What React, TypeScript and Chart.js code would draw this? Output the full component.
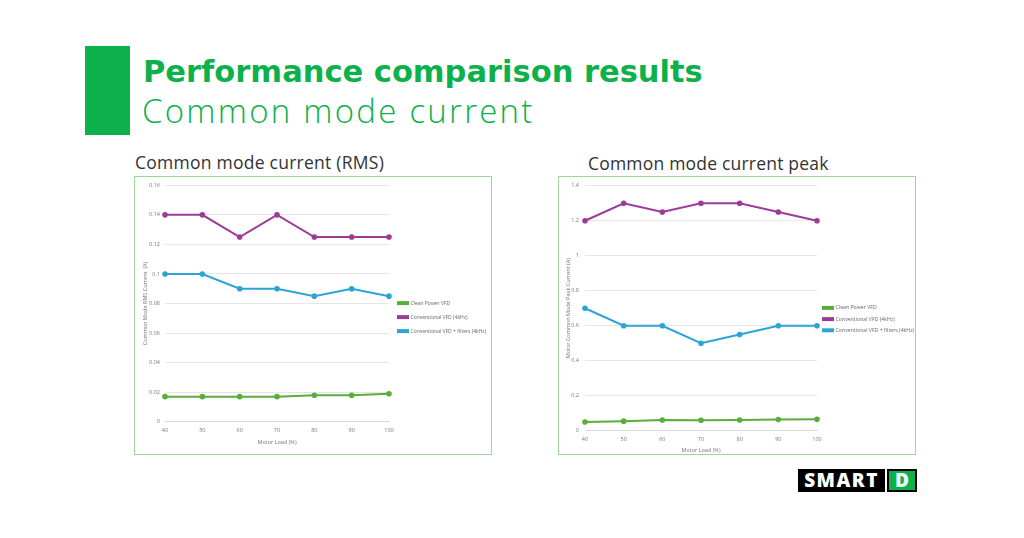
import React, { useEffect, useRef } from "react";
import { Chart, registerables } from "chart.js";

Chart.register(...registerables);

const loadLabels = ["40", "50", "60", "70", "80", "90", "100"];
const seriesNames = ["Clean Power VFD", "Conventional VFD (4kHz)", "Conventional VFD + filters (4kHz)"];
const seriesColors = ["#58ae3b", "#9c3b9a", "#2ca4d5"];

const rmsClean = [0.017, 0.017, 0.017, 0.017, 0.018, 0.018, 0.019];
const rmsConventional = [0.14, 0.14, 0.125, 0.14, 0.125, 0.125, 0.125];
const rmsFilters = [0.1, 0.1, 0.09, 0.09, 0.085, 0.09, 0.085];

const peakClean = [0.05, 0.055, 0.062, 0.06, 0.062, 0.064, 0.066];
const peakConventional = [1.2, 1.3, 1.25, 1.3, 1.3, 1.25, 1.2];
const peakFilters = [0.7, 0.6, 0.6, 0.5, 0.55, 0.6, 0.6];

const GREEN = "#0db14b";
const FONT = "'Open Sans', 'DejaVu Sans', sans-serif";

// keeps the library legend at a fixed width (Chart.js caps side boxes at a quarter of the canvas)
const legendWidthPlugin = {
  id: "legendWidth",
  beforeLayout(chart: any, _args: any, opts: any) {
    const lg = chart.legend;
    if (!lg || lg.__fixedWidth) return;
    const origFit = lg.fit.bind(lg);
    lg.fit = function () {
      origFit();
      this.width = opts.width;
    };
    lg.__fixedWidth = true;
  },
};

type ChartProps = {
  series: number[][];
  yMax: number;
  yStep: number;
  yTitle: string;
  yWidth: number;
  yTitlePad: number;
  yTickPad: number;
  yTickLineHeight: number;
  legendWidth: number;
  legendFont: number;
  legendPad: number;
  legendShift: number;
  xTitlePad: number;
  padTop: number;
  padBottom: number;
};

function LineChart(p: ChartProps) {
  const ref = useRef<HTMLCanvasElement | null>(null);
  useEffect(() => {
    if (!ref.current) return;
    const chart = new Chart(ref.current, {
      type: "line",
      data: {
        labels: loadLabels,
        datasets: p.series.map((d, i) => ({
          label: seriesNames[i],
          data: d,
          borderColor: seriesColors[i],
          backgroundColor: seriesColors[i],
          borderWidth: 2,
          pointRadius: 1.8,
          pointHoverRadius: 1.8,
          pointBackgroundColor: seriesColors[i],
          pointBorderColor: seriesColors[i],
          tension: 0,
        })),
      },
      plugins: [legendWidthPlugin as any],
      options: {
        animation: false,
        responsive: false,
        maintainAspectRatio: false,
        layout: { padding: { left: 0, right: 0, top: p.padTop, bottom: p.padBottom } },
        plugins: {
          tooltip: { enabled: false },
          legendWidth: { width: p.legendWidth },
          legend: {
            position: "right",
            align: "center",
            title: { display: true, text: " ", font: { size: 1 }, padding: { top: p.legendShift, bottom: 0 } },
            labels: {
              font: { family: FONT, size: p.legendFont },
              color: "#666",
              boxWidth: 10,
              boxHeight: 2,
              padding: p.legendPad,
            },
          },
        } as any,
        scales: {
          x: {
            type: "category",
            offset: false,
            grid: { display: false, drawTicks: false },
            border: { display: true, color: "#d9d9d9" },
            ticks: { font: { family: FONT, size: 5.5 }, color: "#777", padding: 5, maxRotation: 0 },
            title: { display: true, text: "Motor Load (%)", font: { family: FONT, size: 5.5 }, color: "#777", padding: { top: p.xTitlePad, bottom: 0 } },
          },
          y: {
            min: 0,
            max: p.yMax,
            grid: { color: "#e6e6e6", drawTicks: false },
            border: { display: false },
            afterFit: (scale: any) => {
              scale.width = p.yWidth;
            },
            ticks: {
              stepSize: p.yStep,
              font: { family: FONT, size: 5.5, lineHeight: p.yTickLineHeight },
              color: "#777",
              padding: p.yTickPad,
              callback: (v: any) => String(+Number(v).toFixed(3)),
            },
            title: { display: true, text: p.yTitle, font: { family: FONT, size: 5.5 }, color: "#777", padding: { top: p.yTitlePad, bottom: 0 } },
          },
        },
      },
    });
    return () => chart.destroy();
  }, []);
  return <canvas ref={ref} width={356} height={277} style={{ display: "block", width: 356, height: 277 }} />;
}

export default function App() {
  return (
    <div style={{ position: "absolute", left: 0, top: 0, width: 1024, height: 538, background: "#fff", overflow: "hidden", fontFamily: FONT }}>
      <div style={{ position: "absolute", left: 85, top: 46, width: 45, height: 89, background: GREEN }} />
      <div style={{ position: "absolute", left: 143, top: 52, fontSize: 30.5, fontWeight: 700, color: GREEN, whiteSpace: "nowrap", lineHeight: "40px", fontFamily: "'DejaVu Sans', sans-serif" }}>
        Performance comparison results
      </div>
      <div style={{ position: "absolute", left: 142, top: 91, fontSize: 33, fontWeight: 300, letterSpacing: 2.25, color: GREEN, whiteSpace: "nowrap", lineHeight: "40px", fontFamily: "'Open Sans', sans-serif" }}>
        Common mode current
      </div>

      <div style={{ position: "absolute", left: 135, top: 149, fontSize: 17.5, letterSpacing: 0.25, color: "#333", whiteSpace: "nowrap", lineHeight: "26px" }}>
        Common mode current (RMS)
      </div>
      <div style={{ position: "absolute", left: 134, top: 176, width: 356, height: 277, border: "1px solid #9fd49f" }}>
        <LineChart series={[rmsClean, rmsConventional, rmsFilters]} yMax={0.16} yStep={0.02}
          yTitle="Common Mode RMS Current  (A)" yWidth={30} yTitlePad={6.7} yTickPad={5} yTickLineHeight={1.2}
          legendWidth={102} legendFont={5} legendPad={9} legendShift={7} xTitlePad={1} padTop={3} padBottom={8} />
      </div>

      <div style={{ position: "absolute", left: 588, top: 150, fontSize: 17.5, letterSpacing: 0.2, color: "#333", whiteSpace: "nowrap", lineHeight: "26px" }}>
        Common mode current peak
      </div>
      <div style={{ position: "absolute", left: 558, top: 176, width: 356, height: 277, border: "1px solid #9fd49f" }}>
        <LineChart series={[peakClean, peakConventional, peakFilters]} yMax={1.4} yStep={0.2}
          yTitle="Motor Common Mode Peak Current (A)" yWidth={26} yTitlePad={5.7} yTickPad={6} yTickLineHeight={1}
          legendWidth={98} legendFont={5.2} legendPad={6} legendShift={6} xTitlePad={0} padTop={0} padBottom={0} />
      </div>

      <div style={{ position: "absolute", left: 798, top: 469, width: 87, height: 23, background: "#000", color: "#fff", fontWeight: 800, fontSize: 19, lineHeight: "23px", textAlign: "center", letterSpacing: 1.5, fontFamily: "'Open Sans', sans-serif" }}>
        SMART
      </div>
      <div style={{ position: "absolute", left: 887, top: 469, width: 30, height: 23, background: GREEN, boxShadow: "inset 0 0 0 2px #000", color: "#fff", fontWeight: 800, fontSize: 19, lineHeight: "23px", textAlign: "center", fontFamily: "'Open Sans', sans-serif" }}>
        D
      </div>
    </div>
  );
}
